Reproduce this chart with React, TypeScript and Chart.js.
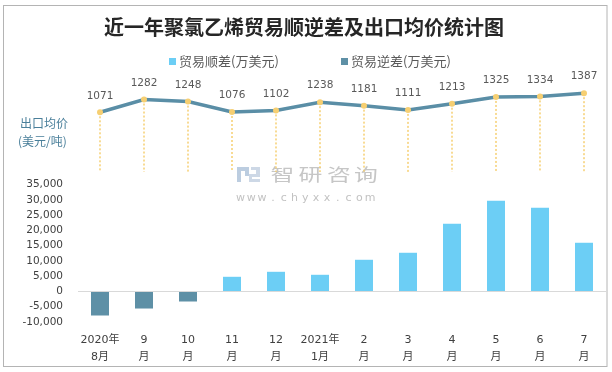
import React, { useEffect, useRef } from 'react';
import { Chart, registerables } from 'chart.js';
Chart.register(...registerables);

const categories: string[][] = [
  ['2020年', '8月'], ['9', '月'], ['10', '月'], ['11', '月'], ['12', '月'], ['2021年', '1月'],
  ['2', '月'], ['3', '月'], ['4', '月'], ['5', '月'], ['6', '月'], ['7', '月'],
];
const surplus = [null, null, null, 4820, 6460, 5480, 10400, 12700, 22200, 29750, 27460, 15980];
const deficit = [-7870, -5580, -3280, null, null, null, null, null, null, null, null, null];
const exportPrice = [1071, 1282, 1248, 1076, 1102, 1238, 1181, 1111, 1213, 1325, 1334, 1387];
const titleText = '近一年聚氯乙烯贸易顺逆差及出口均价统计图';
const legendLabels = ['贸易顺差(万美元)', '贸易逆差(万美元)'];
const priceLabel = ['出口均价', '(美元/吨)'];
const yTickMaxShown = 35000;

const SURPLUS_COLOR = '#6CCEF5';
const DEFICIT_COLOR = '#5E90A6';
const LINE_COLOR = '#5A8EA6';
const POINT_COLOR = '#F6CF72';
const CJK = '"Noto Sans CJK SC", sans-serif';
const NUM = '"DejaVu Sans", "Noto Sans CJK SC", sans-serif';

const decor = {
  id: 'decor',
  beforeDraw(chart: any) {
    const ctx = chart.ctx;
    ctx.save();
    // border
    ctx.strokeStyle = '#b4b4b4';
    ctx.lineWidth = 1;
    ctx.strokeRect(3.5, 5.5, 603.5, 361);
    // title
    ctx.fillStyle = '#262626';
    ctx.font = `bold 20px ${CJK}`;
    ctx.textAlign = 'center';
    ctx.textBaseline = 'middle';
    ctx.fillText(titleText, 304, 27);
    // legend
    ctx.font = `13px ${CJK}`;
    ctx.textAlign = 'left';
    ctx.fillStyle = SURPLUS_COLOR;
    ctx.fillRect(169, 58, 7, 7);
    ctx.fillStyle = '#595959';
    ctx.fillText(legendLabels[0], 179, 61.5);
    ctx.fillStyle = DEFICIT_COLOR;
    ctx.fillRect(341, 58, 7, 7);
    ctx.fillStyle = '#595959';
    ctx.fillText(legendLabels[1], 351, 61.5);
    // left label
    ctx.fillStyle = '#4A7F9A';
    ctx.font = `12px ${CJK}`;
    ctx.fillText(priceLabel[0], 20, 123);
    ctx.fillText(priceLabel[1], 18, 141);
    // watermark logo
    ctx.fillStyle = '#bccde0';
    ctx.fillRect(237, 167, 4, 15);
    ctx.fillRect(237, 167, 12, 4);
    ctx.fillRect(245, 167, 4, 9);
    ctx.fillStyle = '#cdd8e6';
    ctx.fillRect(251, 167, 9, 3);
    ctx.fillRect(256, 167, 4, 9);
    ctx.fillRect(249, 174, 11, 3);
    ctx.fillRect(249, 174, 3, 8);
    ctx.fillRect(249, 179, 11, 3);
    // watermark text
    ctx.fillStyle = '#c6c6c6';
    ctx.font = `17px ${CJK}`;
    ctx.textAlign = 'center';
    const wm = ['智', '研', '咨', '询'];
    const wmx = [282.5, 310.5, 339, 366];
    wm.forEach((c, i) => {
      ctx.save();
      ctx.translate(wmx[i], 175);
      ctx.scale(1.4, 1);
      ctx.fillText(c, 0, 0);
      ctx.restore();
    });
    ctx.font = `11px ${NUM}`;
    ctx.fillStyle = '#c2c2c2';
    const url = 'www.chyxx.com'.split('');
    url.forEach((c, i) => ctx.fillText(c, 240.5 + i * 10.8, 198));
    ctx.restore();
  },
  beforeDatasetsDraw(chart: any) {
    const ctx = chart.ctx;
    const meta = chart.getDatasetMeta(2);
    ctx.save();
    ctx.strokeStyle = '#F6CF72';
    ctx.lineWidth = 1.5;
    ctx.setLineDash([2, 2]);
    meta.data.forEach((p: any) => {
      ctx.beginPath();
      ctx.moveTo(p.x, p.y);
      ctx.lineTo(p.x, 172);
      ctx.stroke();
    });
    ctx.restore();
  },
  afterDatasetsDraw(chart: any) {
    const ctx = chart.ctx;
    const meta = chart.getDatasetMeta(2);
    ctx.save();
    ctx.fillStyle = '#595959';
    ctx.font = `10.5px ${NUM}`;
    ctx.textAlign = 'center';
    ctx.textBaseline = 'middle';
    meta.data.forEach((p: any, i: number) => {
      ctx.fillText(String(exportPrice[i]), p.x, p.y - 16.5);
    });
    ctx.restore();
  },
};

export default function App() {
  const ref = useRef<HTMLCanvasElement>(null);
  useEffect(() => {
    if (!ref.current) return;
    const chart = new Chart(ref.current, {
      type: 'bar',
      data: {
        labels: categories,
        datasets: [
          {
            type: 'bar',
            label: legendLabels[0],
            data: surplus,
            backgroundColor: SURPLUS_COLOR,
            yAxisID: 'y',
            barPercentage: 18 / 44,
            categoryPercentage: 1,
            skipNull: true,
          } as any,
          {
            type: 'bar',
            label: legendLabels[1],
            data: deficit,
            backgroundColor: DEFICIT_COLOR,
            yAxisID: 'y',
            barPercentage: 18 / 44,
            categoryPercentage: 1,
            skipNull: true,
          } as any,
          {
            type: 'line',
            label: '出口均价',
            data: exportPrice,
            yAxisID: 'y2',
            borderColor: LINE_COLOR,
            borderWidth: 3.5,
            tension: 0,
            pointRadius: 3,
            pointBackgroundColor: POINT_COLOR,
            pointBorderWidth: 0,
            clip: false,
          } as any,
        ],
      },
      options: {
        responsive: false,
        animation: false,
        devicePixelRatio: 1,
        layout: { padding: { top: 78, right: 6, left: 0, bottom: 0 } },
        plugins: { legend: { display: false }, title: { display: false }, tooltip: { enabled: false } },
        scales: {
          x: {
            offset: true,
            grid: { display: false, drawTicks: false },
            border: { display: false },
            ticks: {
              color: '#404040',
              font: { size: 11, family: NUM, lineHeight: 1.55 },
              padding: 9.5,
              maxRotation: 0,
              autoSkip: false,
            },
            afterFit: (s: any) => { s.height = 50; },
          },
          y: {
            min: -10000,
            max: 70000,
            border: { display: false },
            grid: {
              drawTicks: false,
              lineWidth: 1,
              color: (c: any) => (c.tick && c.tick.value === 0 ? '#d9d9d9' : 'rgba(0,0,0,0)'),
            },
            ticks: {
              stepSize: 5000,
              autoSkip: false,
              padding: 15,
              color: '#404040',
              font: { size: 10.5, family: NUM },
              callback: (v: any) => (Number(v) > yTickMaxShown ? '' : Number(v).toLocaleString('en-US')),
            },
            afterFit: (s: any) => { s.width = 78; },
          },
          y2: {
            display: false,
            position: 'right',
            min: -2395,
            max: 1638,
          },
        },
      } as any,
      plugins: [decor],
    });
    return () => chart.destroy();
  }, []);
  return (
    <div style={{ position: 'fixed', left: 0, top: 0, width: 612, height: 372, background: '#fff' }}>
      <canvas ref={ref} width={612} height={372} style={{ display: 'block', width: 612, height: 372 }} />
    </div>
  );
}
